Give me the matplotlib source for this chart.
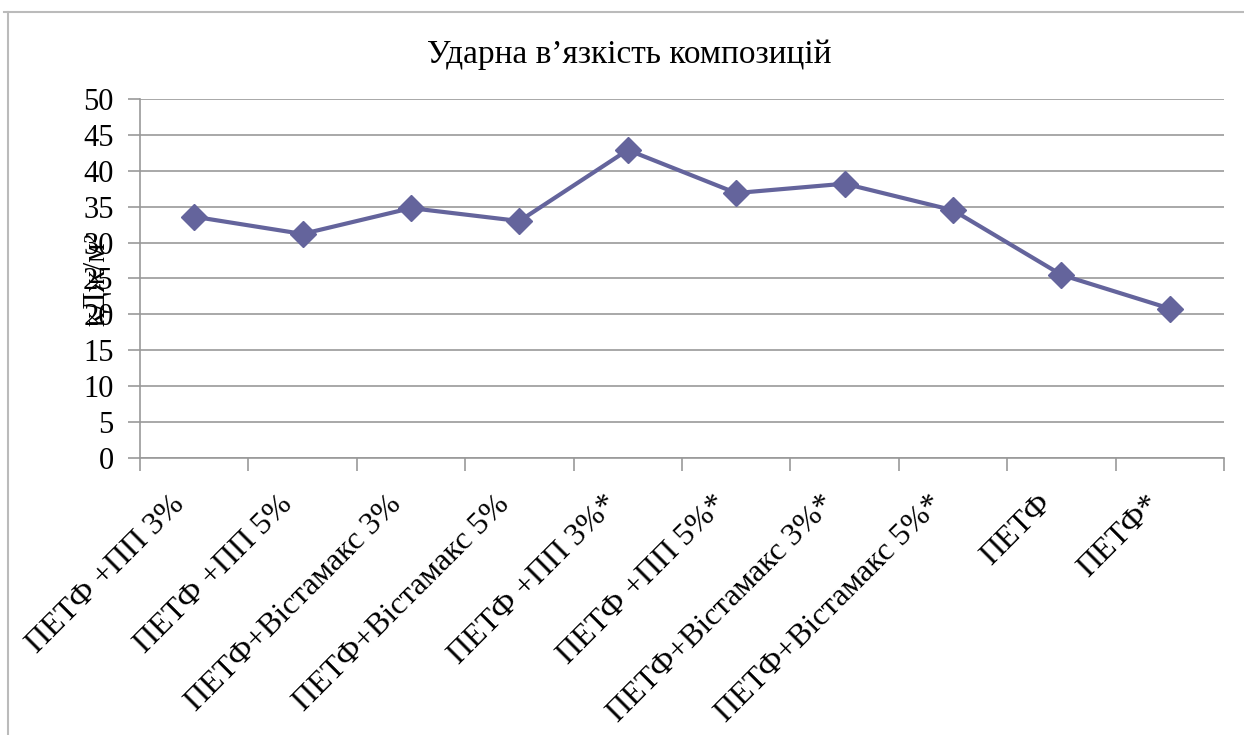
from matplotlib import pyplot
from matplotlib.lines import Line2D
from matplotlib.transforms import ScaledTranslation
import numpy

categories = [
    "ПЕТФ +ПП 3%",
    "ПЕТФ +ПП 5%",
    "ПЕТФ+Вістамакс 3%",
    "ПЕТФ+Вістамакс 5%",
    "ПЕТФ +ПП 3%*",
    "ПЕТФ +ПП 5%*",
    "ПЕТФ+Вістамакс 3%*",
    "ПЕТФ+Вістамакс 5%*",
    "ПЕТФ",
    "ПЕТФ*",
]
impact = [33.6, 31.2, 34.8, 33.0, 42.9, 36.9, 38.2, 34.5, 25.5, 20.8]
y_ticks = [0, 5, 10, 15, 20, 25, 30, 35, 40, 45, 50]

title = "Ударна в’язкість композицій"
y_label = "кДж/м²"

pyplot.rcParams["font.family"] = ["Liberation Serif", "DejaVu Serif"]

fig = pyplot.figure(figsize=(12.44, 7.35), dpi=100)
ax = fig.add_axes([0.1125, 0.377, 0.8715, 0.4883])

x = numpy.arange(len(categories))
ax.plot(x, impact, "-", color="#64649C", lw=3, marker="D", markersize=13,
        markerfacecolor="#64649C", markeredgecolor="#64649C", zorder=3)

ax.set_xlim(-0.5, len(categories) - 0.5)
ax.set_ylim(0, 50)
ax.set_yticks(y_ticks)
ax.set_yticklabels([str(v) for v in y_ticks], fontsize=22)
ax.yaxis.grid(True, color="#999999", lw=1.2)
ax.set_axisbelow(True)

# category boundary ticks like a spreadsheet chart
ax.set_xticks(numpy.arange(-0.5, len(categories), 1.0))
ax.set_xticklabels([])
ax.set_xticks(x, minor=True)
ax.set_xticklabels(categories, minor=True, rotation=45, ha="right",
                   va="baseline", rotation_mode="anchor", fontsize=23)
ax.tick_params(axis="x", which="minor", length=0, pad=34)
ax.tick_params(axis="x", which="major", length=9, color="#999999", width=1.2)
ax.tick_params(axis="y", length=9, color="#999999", width=1.2, pad=10)

shift = ScaledTranslation(-0.09, 0, fig.dpi_scale_trans)
for lbl in ax.get_xticklabels(minor=True):
    lbl.set_transform(lbl.get_transform() + shift)

for side in ["top", "right"]:
    ax.spines[side].set_visible(False)
for side in ["left", "bottom"]:
    ax.spines[side].set_color("#999999")
    ax.spines[side].set_linewidth(1.2)

fig.text(0.506, 0.925, title, ha="center", va="center", fontsize=24)
fig.text(0.078, 0.62, y_label, ha="center", va="center", rotation=90, fontsize=22)

# outer chart border
fig.add_artist(Line2D([0.003, 1.0], [0.984, 0.984], color="#BBBBBB", lw=1.5,
                      transform=fig.transFigure))
fig.add_artist(Line2D([0.0065, 0.0065], [0.0, 0.984], color="#BBBBBB", lw=1.5,
                      transform=fig.transFigure))

pyplot.savefig("out.png", dpi=100)
pyplot.close()
